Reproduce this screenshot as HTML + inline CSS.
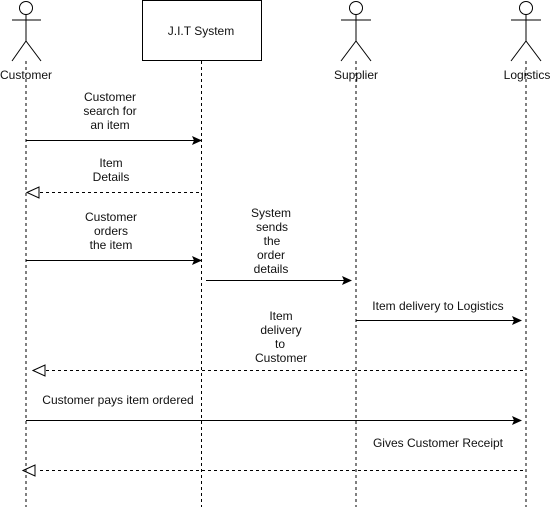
<!DOCTYPE html>
<html><head><meta charset="utf-8"><style>
html,body{margin:0;padding:0;background:#fff;}
svg{display:block;}
text{font-family:"Liberation Sans",Arial,sans-serif;font-size:12px;fill:#111;}
</style></head><body>
<svg width="550" height="507" viewBox="0 0 550 507" xmlns="http://www.w3.org/2000/svg">
<g stroke="#000" stroke-width="1" fill="none">
  <!-- actors -->
  <circle cx="26" cy="8" r="6.5"/><line x1="26" y1="14.5" x2="26" y2="41"/><line x1="12" y1="20" x2="41" y2="20"/><line x1="26" y1="41" x2="12" y2="61"/><line x1="26" y1="41" x2="41" y2="61"/>
  <circle cx="356" cy="8" r="6.5"/><line x1="356" y1="14.5" x2="356" y2="41"/><line x1="341" y1="20" x2="371" y2="20"/><line x1="356" y1="41" x2="341" y2="61"/><line x1="356" y1="41" x2="371" y2="61"/>
  <circle cx="526" cy="8" r="6.5"/><line x1="526" y1="14.5" x2="526" y2="41"/><line x1="511" y1="20" x2="541" y2="20"/><line x1="526" y1="41" x2="511" y2="61"/><line x1="526" y1="41" x2="541" y2="61"/>
  <rect x="142.5" y="0.5" width="119" height="60"/>
  <!-- lifelines -->
  <g stroke-dasharray="3,3">
    <line x1="26" y1="61" x2="26" y2="507"/>
    <line x1="201.5" y1="61" x2="201.5" y2="507"/>
    <line x1="356" y1="61" x2="356" y2="507"/>
    <line x1="526" y1="61" x2="526" y2="507"/>
  </g>
  <!-- messages -->
  <line x1="26" y1="140.5" x2="196" y2="140.5"/>
  <line x1="40" y1="192.5" x2="201" y2="192.5" stroke-dasharray="3,3"/>
  <polygon points="27,192.5 39,187 39,198"/>
  <line x1="26" y1="260.5" x2="196" y2="260.5"/>
  <line x1="206" y1="280.5" x2="346" y2="280.5"/>
  <line x1="356" y1="320.5" x2="516" y2="320.5"/>
  <line x1="46" y1="370.5" x2="526" y2="370.5" stroke-dasharray="3,3"/>
  <polygon points="33,370.5 45,365 45,376"/>
  <line x1="26" y1="420.5" x2="516" y2="420.5"/>
  <line x1="40" y1="470.5" x2="526" y2="470.5" stroke-dasharray="3,3"/>
  <polygon points="23,470.5 35,465 35,476"/>
</g>
<g fill="#000">
  <polygon points="202,140.5 192,136 194,140.5 192,145"/>
  <polygon points="202,260.5 192,256 194,260.5 192,265"/>
  <polygon points="352,280.5 342,276 344,280.5 342,285"/>
  <polygon points="522,320.5 512,316 514,320.5 512,325"/>
  <polygon points="522,420.5 512,416 514,420.5 512,425"/>
</g>
<g text-anchor="middle">
  <text x="26" y="79">Customer</text>
  <text x="201" y="35">J.I.T System</text>
  <text x="356" y="79">Supplier</text>
  <text x="527" y="79">Logistics</text>
  <text x="110" y="101">Customer</text><text x="110" y="115">search for</text><text x="110" y="129">an item</text>
  <text x="111" y="167">Item</text><text x="111" y="181">Details</text>
  <text x="111" y="221">Customer</text><text x="111" y="235">orders</text><text x="111" y="249">the item</text>
  <text x="271" y="217">System</text><text x="272" y="231">sends</text><text x="272" y="245">the</text><text x="271" y="259">order</text><text x="271" y="273">details</text>
  <text x="438" y="310">Item delivery to Logistics</text>
  <text x="281" y="320">Item</text><text x="281" y="334">delivery</text><text x="280" y="348">to</text><text x="281" y="362">Customer</text>
  <text x="118" y="404">Customer pays item ordered</text>
  <text x="438" y="447">Gives Customer Receipt</text>
</g>
</svg>
</body></html>
